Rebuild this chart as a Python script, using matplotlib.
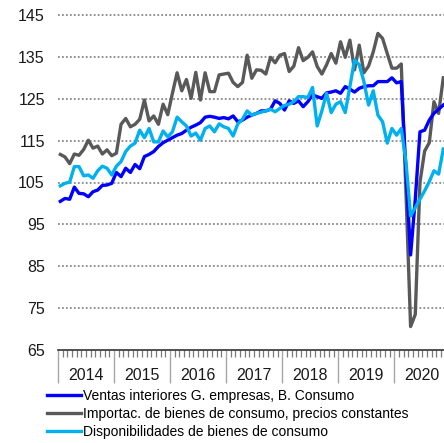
import numpy as np
import matplotlib
matplotlib.use('Agg')
import matplotlib.pyplot as plt

plt.rcParams['font.family'] = ['Liberation Sans', 'DejaVu Sans']

# series mensuales, enero 2014 - noviembre 2020
ventas = [100.5, 101.2, 101.0, 103.9, 102.4, 102.3, 101.6, 102.8, 103.2, 104.3, 104.4, 104.8,
          107.4, 106.4, 108.4, 107.4, 109.3, 108.3, 111.2, 111.7, 112.4, 113.6, 114.5, 115.1,
          115.7, 116.3, 116.7, 117.5, 118.2, 118.7, 119.3, 120.6, 120.8, 120.6, 120.3, 120.5,
          120.2, 120.9, 119.5, 119.9, 120.6, 121.1, 121.5, 122.1, 122.1, 122.5, 124.5, 123.9,
          122.3, 124.5, 123.9, 124.5, 123.1, 124.3, 125.9, 125.5, 125.1, 126.4, 126.6, 126.9,
          126.3, 127.9, 127.3, 126.6, 127.5, 127.9, 128.1, 128.1, 129.1, 129.1, 129.1, 130.0,
          128.8, 129.1, 108.0, 87.7, 101.0, 117.1, 117.5, 119.9, 121.5, 122.5, 123.5]
importac = [111.7, 111.1, 109.5, 111.8, 111.5, 112.9, 115.1, 113.2, 113.7, 111.8, 112.8, 111.4,
            112.0, 118.9, 120.3, 118.3, 118.9, 120.1, 124.7, 119.7, 120.9, 118.9, 123.7, 121.2,
            126.3, 131.2, 126.9, 129.6, 125.1, 131.3, 124.7, 131.2, 126.7, 126.7, 130.7, 130.9,
            131.1, 128.9, 127.9, 128.9, 135.4, 129.9, 131.9, 131.8, 130.9, 134.9, 133.6, 135.4,
            135.8, 131.5, 132.8, 137.2, 134.1, 134.9, 136.2, 132.7, 130.9, 133.1, 135.8, 133.5,
            138.6, 134.9, 139.0, 131.9, 137.8, 131.2, 132.8, 136.2, 140.6, 139.4, 135.8, 132.3,
            132.3, 133.3, 103.0, 70.6, 73.5, 105.0, 112.5, 114.5, 124.3, 121.5, 130.0]
disponib = [104.2, 104.8, 105.1, 108.8, 108.8, 106.6, 106.8, 106.0, 107.8, 108.9, 108.4, 106.8,
            108.9, 110.0, 112.4, 113.7, 114.4, 117.5, 115.7, 117.9, 114.7, 114.7, 117.3, 115.9,
            117.1, 120.6, 119.5, 118.5, 116.1, 116.8, 115.1, 117.9, 118.5, 117.1, 119.0, 118.3,
            117.9, 116.1, 119.0, 120.1, 122.1, 121.1, 121.5, 121.8, 122.1, 122.5, 121.9, 122.7,
            123.4, 123.7, 124.3, 125.5, 125.5, 125.3, 127.7, 118.5, 122.1, 126.3, 121.7, 123.7,
            124.3, 121.7, 127.9, 134.3, 133.1, 129.1, 123.5, 126.9, 121.1, 119.5, 114.4, 117.9,
            116.3, 117.9, 110.0, 97.0, 99.0, 101.0, 103.0, 105.2, 107.8, 107.0, 113.0]
anios = ['2014', '2015', '2016', '2017', '2018', '2019', '2020']
etiquetas = ['Ventas interiores G. empresas, B. Consumo',
             'Importac. de bienes de consumo, precios constantes',
             'Disponibilidades de bienes de consumo']

W, H = 444, 443
fig = plt.figure(figsize=(W / 100, H / 100), dpi=100)
# el eje llega hasta dic-2020, la imagen se corta antes
ax = fig.add_axes([58 / W, 93 / H, 392.3 / W, 335 / H])

x = np.arange(len(ventas)) + 0.5
l2, = ax.plot(x, importac, color='#595959', lw=2.4)
l1, = ax.plot(x, ventas, color='#0000FF', lw=2.4)
l3, = ax.plot(x, disponib, color='#00B0F0', lw=2.4)

ax.set_xlim(0, 84)
ax.set_ylim(65, 145)
ax.set_yticks(np.arange(65, 146, 10))
# lineas de rejilla punteadas (la de 145 sin recortar)
for v in np.arange(75, 146, 10):
    ax.axhline(v, color='#8a8a8a', lw=1.3, ls=(0, (1, 1.2)), zorder=0, clip_on=False)

ax.set_xticks(np.arange(0, 85, 12))
ax.set_xticks(np.arange(0, 85, 1), minor=True)
ax.set_xticklabels([])
ax.tick_params(axis='x', which='major', length=24, width=1, color='#a6a6a6')
ax.tick_params(axis='x', which='minor', length=5, width=0.9, color='#7a7a7a')
ax.tick_params(axis='y', length=0, pad=9.5, labelsize=11.5, labelcolor='#1a1a1a')

for s in ['top', 'right', 'left']:
    ax.spines[s].set_visible(False)
ax.spines['bottom'].set_color('#333333')
ax.spines['bottom'].set_linewidth(1.2)

for k, a in enumerate(anios):
    ax.text(6 + 12 * k, -25 / 335, a, transform=ax.get_xaxis_transform(),
            ha='center', va='center', fontsize=11.5, color='#1a1a1a')

fig.legend([l1, l2, l3], etiquetas, loc='upper left', bbox_to_anchor=(47 / W, 54 / H),
           frameon=False, fontsize=10, handlelength=2.45, handletextpad=0.15,
           labelspacing=0.3, borderaxespad=0, borderpad=0)

fig.savefig('out.png', dpi=100)
